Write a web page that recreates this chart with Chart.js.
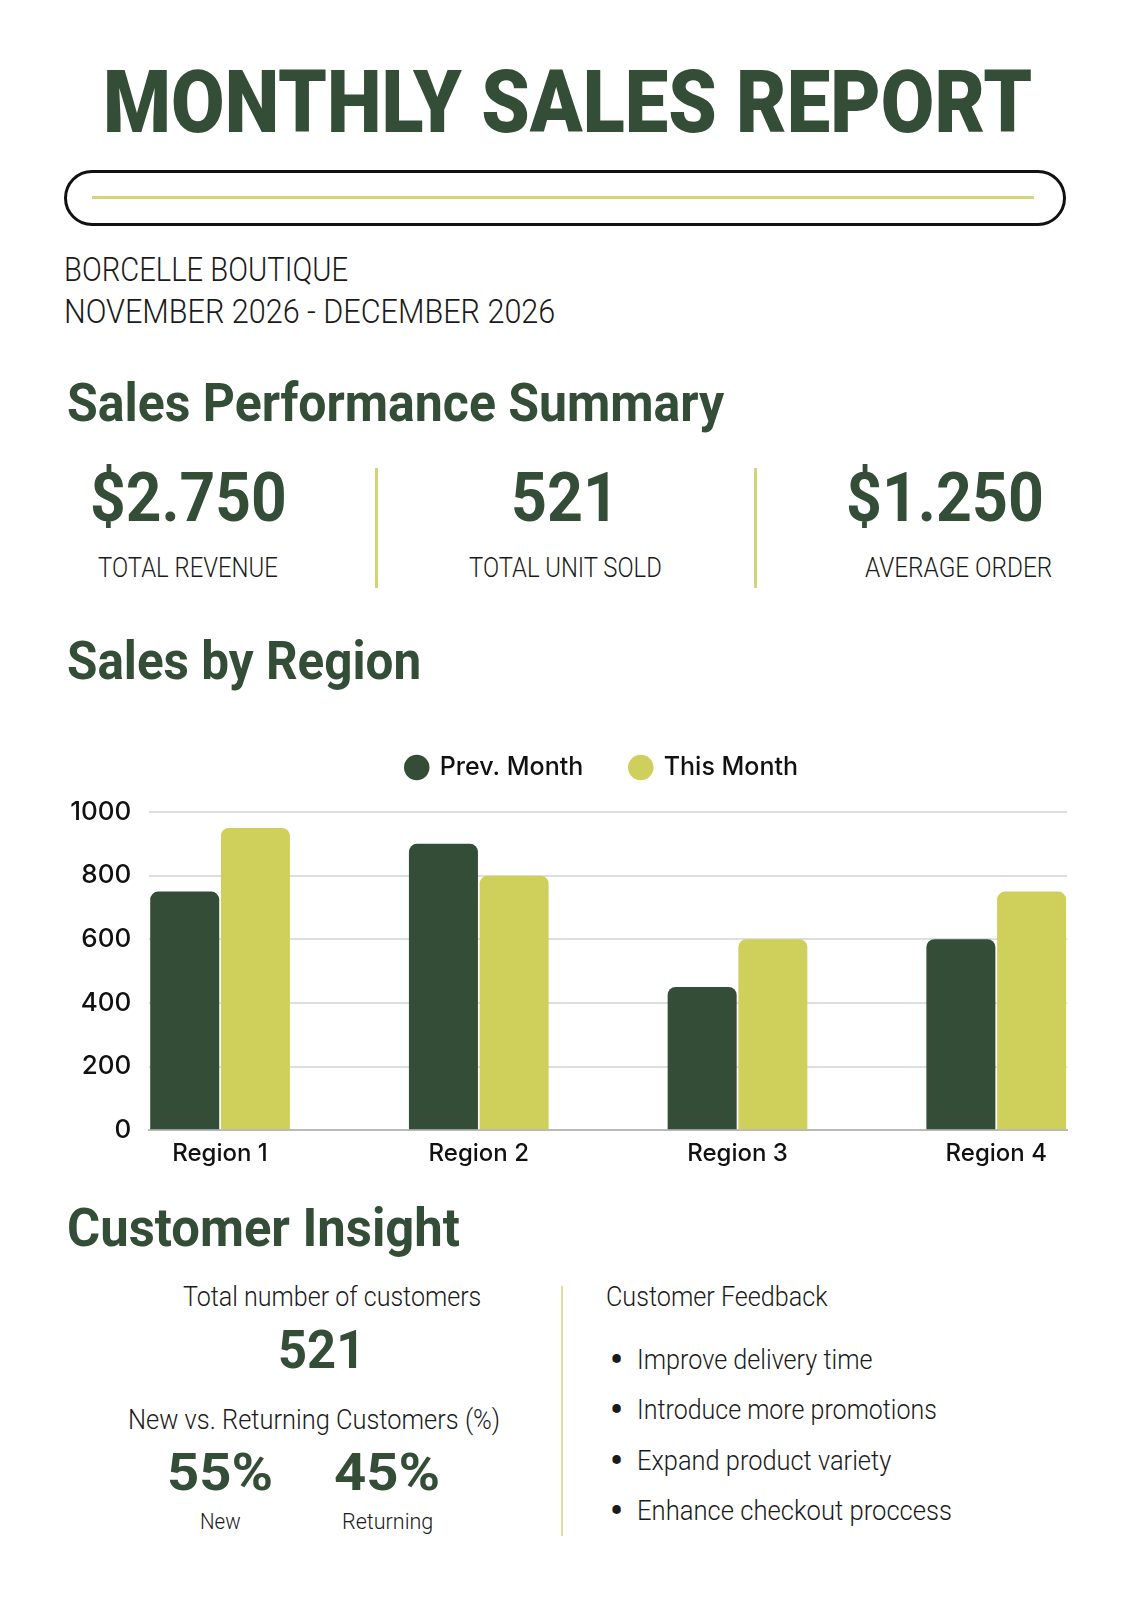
<!DOCTYPE html>
<html>
<head>
<meta charset="utf-8">
<script src="https://cdn.jsdelivr.net/npm/chart.js@4.4.1/dist/chart.umd.min.js"></script>
<style>
  body { margin: 0; background: #fff; }
  #page { position: relative; width: 1131px; height: 1600px; background: #fff; overflow: hidden; color: #1a1a1a; }
  .t { position: absolute; white-space: nowrap; line-height: 1; font-family: Roboto, "Noto Sans", sans-serif; transform-origin: left center; }
  .light { font-weight: 300; color: #1a1a1a; }
  .green { color: #344d36; font-weight: 700; }
  .heavy { color: #344d36; font-weight: 900; }
  .bullet { font-weight: 700; font-size: 36px; left: 610px; }
  .pill { position: absolute; left: 64px; top: 170px; width: 996px; height: 50px; border: 3px solid #111; border-radius: 28px; }
  .pill-line { position: absolute; left: 92px; top: 196px; width: 942px; height: 3px; background: #d5d57f; }
  .vdiv { position: absolute; width: 3px; background: #d3d37c; }
  #chartBox { position: absolute; left: 55px; top: 692px; width: 1016px; height: 495px; }
</style>
</head>
<body>
<div id="page">
  <div class="t heavy" data-w="929" style="left:103px; top:58px; font-size:88px">MONTHLY SALES REPORT</div>
  <div class="pill"></div>
  <div class="pill-line"></div>

  <div class="t light" data-w="284" style="left:64px; top:253px; font-size:33px">BORCELLE BOUTIQUE</div>
  <div class="t light" data-w="491" style="left:64px; top:295px; font-size:33px">NOVEMBER 2026 - DECEMBER 2026</div>

  <div class="t green" data-w="657" style="left:67px; top:376px; font-size:54px">Sales Performance Summary</div>

  <div class="t green" data-w="197" style="left:90px; top:464px; font-size:68px">$2.750</div>
  <div class="t light" data-w="180" style="left:98px; top:554px; font-size:28px">TOTAL REVENUE</div>
  <div class="vdiv" style="left:375px; top:468px; height:120px"></div>
  <div class="t green" data-w="108" style="left:511px; top:464px; font-size:68px">521</div>
  <div class="t light" data-w="193" style="left:469px; top:554px; font-size:28px">TOTAL UNIT SOLD</div>
  <div class="vdiv" style="left:754px; top:468px; height:120px"></div>
  <div class="t green" data-w="198" style="left:846px; top:464px; font-size:68px">$1.250</div>
  <div class="t light" data-w="187" style="left:865px; top:554px; font-size:28px">AVERAGE ORDER</div>

  <div class="t green" data-w="354" style="left:67px; top:634px; font-size:54px">Sales by Region</div>

  <div id="chartBox"><canvas id="grafico"></canvas></div>

  <div class="t green" data-w="393" style="left:67px; top:1201px; font-size:54px">Customer Insight</div>

  <div class="t light" data-w="298" style="left:183px; top:1284px; font-size:27px">Total number of customers</div>
  <div class="t green" data-w="87" style="left:278px; top:1324px; font-size:53px">521</div>
  <div class="t light" data-w="372" style="left:128px; top:1407px; font-size:27px">New vs. Returning Customers (%)</div>
  <div class="t green" data-w="106" style="left:167px; top:1447px; font-size:52px">55%</div>
  <div class="t green" data-w="106" style="left:334px; top:1447px; font-size:52px">45%</div>
  <div class="t light" data-w="41" style="left:200px; top:1511px; font-size:22px">New</div>
  <div class="t light" data-w="91" style="left:342px; top:1511px; font-size:22px">Returning</div>

  <div class="vdiv" style="left:561px; top:1286px; height:250px; width:2px; background:#e0dda6"></div>

  <div class="t light" data-w="222" style="left:606px; top:1284px; font-size:27px">Customer Feedback</div>
  <div class="t bullet" style="top:1342px">&bull;</div>
  <div class="t light" data-w="236" style="left:637px; top:1347px; font-size:27px">Improve delivery time</div>
  <div class="t bullet" style="top:1392px">&bull;</div>
  <div class="t light" data-w="300" style="left:637px; top:1397px; font-size:27px">Introduce more promotions</div>
  <div class="t bullet" style="top:1443px">&bull;</div>
  <div class="t light" data-w="254" style="left:637px; top:1448px; font-size:27px">Expand product variety</div>
  <div class="t bullet" style="top:1493px">&bull;</div>
  <div class="t light" data-w="315" style="left:637px; top:1498px; font-size:27px">Enhance checkout proccess</div>
</div>

<script>
// dados do grafico de vendas por regiao
const regioes = ['Region 1', 'Region 2', 'Region 3', 'Region 4'];
const mesAnterior = [750, 900, 450, 600];
const mesAtual = [950, 800, 600, 750];
const legendas = ['Prev. Month', 'This Month'];
const ticksY = [0, 200, 400, 600, 800, 1000];

const corVerde = '#344d36';
const corAmarelo = '#cfd05c';

// ajusta a largura dos textos ao layout
function ajustarTextos() {
  document.querySelectorAll('[data-w]').forEach(function (el) {
    el.style.transform = 'none';
    var largura = el.offsetWidth;
    el.style.transform = `scaleX(${Number(el.dataset.w) / largura})`;
  });
}
ajustarTextos();
document.fonts.ready.then(ajustarTextos);

// espaco abaixo da legenda e legenda centrada na area do grafico
const espacoLegenda = {
  id: 'espacoLegenda',
  beforeInit(chart) {
    const fitOriginal = chart.legend.fit;
    chart.legend.fit = function () {
      fitOriginal.bind(chart.legend)();
      this.height += 22;
    };
  },
  beforeDraw(chart) {
    chart.legend.left = chart.chartArea.left - 12;
    chart.legend.right = chart.chartArea.right;
  }
};

const grafico = document.getElementById('grafico');

new Chart(grafico, {
  type: 'bar',
  data: {
    datasets: [{
      label: legendas[0],
      data: mesAnterior.map((v, i) => ({ x: i, y: v })),
      backgroundColor: corVerde,
      borderRadius: 8,
      borderSkipped: 'start'
    }, {
      label: legendas[1],
      data: mesAtual.map((v, i) => ({ x: i, y: v })),
      backgroundColor: corAmarelo,
      borderRadius: 8,
      borderSkipped: 'start'
    }]
  },
  plugins: [espacoLegenda],
  options: {
    responsive: true,
    maintainAspectRatio: false,
    animation: false,
    categoryPercentage: 0.5466,
    barPercentage: 0.976,
    layout: { padding: { top: 16, right: 4, bottom: 10, left: 0 } },
    plugins: {
      tooltip: { enabled: false },
      legend: {
        position: 'top',
        labels: {
          usePointStyle: true,
          pointStyle: 'circle',
          boxWidth: 21,
          boxHeight: 18,
          padding: 47,
          color: '#111',
          font: { family: 'Inter', size: 25, weight: '500' }
        }
      }
    },
    scales: {
      x: {
        type: 'linear',
        offset: false,
        min: -0.2735,
        max: 3.2735,
        grid: { display: false, drawTicks: false },
        border: { display: true, color: '#b9b9b9', width: 2 },
        ticks: {
          stepSize: 1,
          includeBounds: false,
          autoSkip: false,
          maxRotation: 0,
          padding: 9,
          color: '#111',
          font: { family: 'Inter', size: 24, weight: '500' },
          callback: function (valor) { return regioes[valor] ?? ''; }
        }
      },
      y: {
        min: 0,
        max: 1000,
        afterFit: function (escala) { escala.width = 94.3; },
        afterBuildTicks: function (escala) { escala.ticks = ticksY.map(v => ({ value: v })); },
        grid: { color: '#dedede', lineWidth: 2, drawTicks: false },
        border: { display: false },
        ticks: {
          padding: 18,
          color: '#111',
          font: { family: 'Inter', size: 26, weight: '500' },
          callback: function (valor) { return String(valor); }
        }
      }
    }
  }
});
</script>
</body>
</html>
